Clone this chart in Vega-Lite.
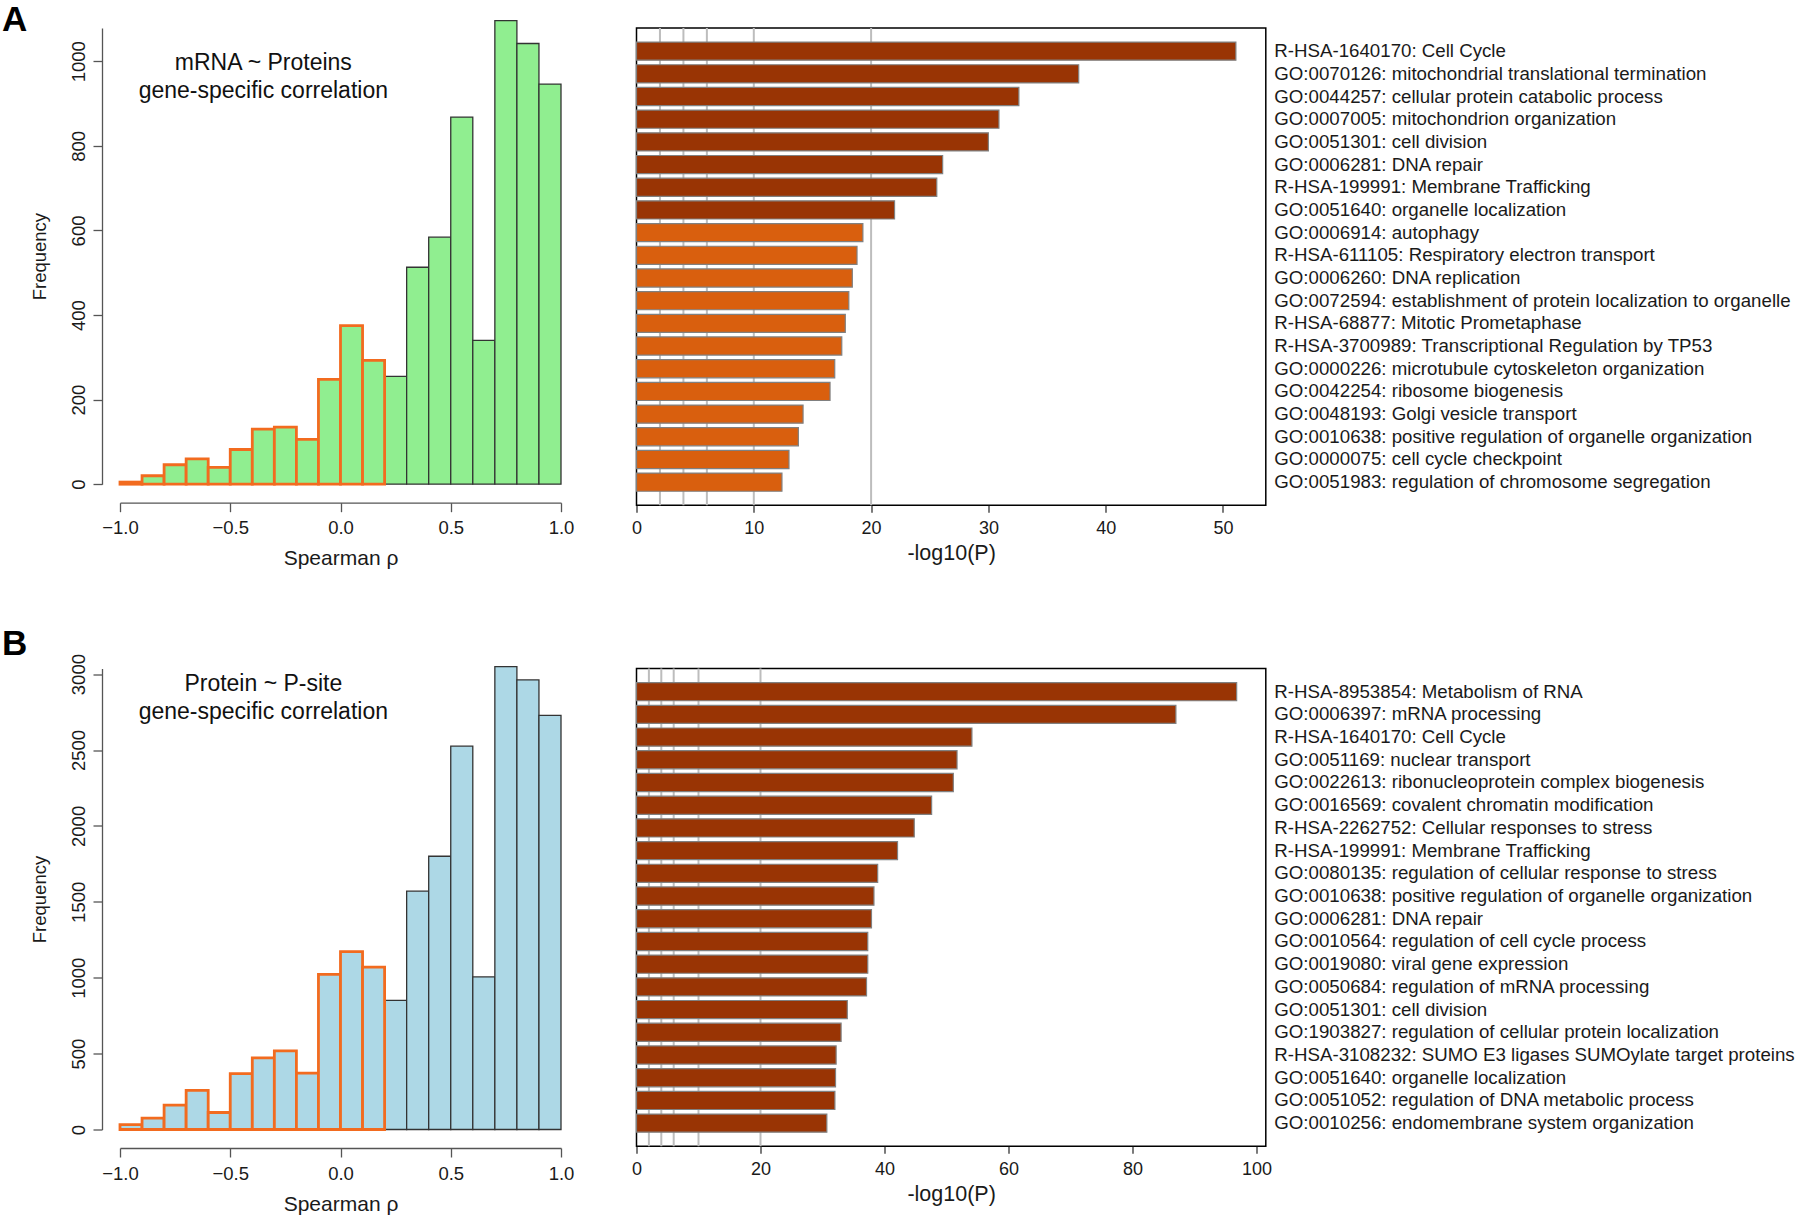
{
  "$schema": "https://vega.github.io/schema/vega-lite/v6.json",
  "padding": {"left": 2, "top": 2, "right": 0, "bottom": 0},
  "background": "white",
  "config": {
    "font": "Liberation Sans",
    "view": {"stroke": null},
    "axis": {"labelColor": "#1a1a1a", "titleColor": "#1a1a1a", "titleFontWeight": "normal", "grid": false, "labelFlush": false, "labelOverlap": false, "labelFont": "Liberation Sans", "titleFont": "Liberation Sans"},
    "title": {"font": "Liberation Sans"}
  },
  "datasets": {
    "histA": [
      {"start": -1.0, "end": -0.9, "count": 5, "edge": "o"},
      {"start": -0.9, "end": -0.8, "count": 20, "edge": "o"},
      {"start": -0.8, "end": -0.7, "count": 46, "edge": "o"},
      {"start": -0.7, "end": -0.6, "count": 60, "edge": "o"},
      {"start": -0.6, "end": -0.5, "count": 40, "edge": "o"},
      {"start": -0.5, "end": -0.4, "count": 82, "edge": "o"},
      {"start": -0.4, "end": -0.3, "count": 130, "edge": "o"},
      {"start": -0.3, "end": -0.2, "count": 135, "edge": "o"},
      {"start": -0.2, "end": -0.1, "count": 106, "edge": "o"},
      {"start": -0.1, "end": 0.0, "count": 248, "edge": "o"},
      {"start": 0.0, "end": 0.1, "count": 375, "edge": "o"},
      {"start": 0.1, "end": 0.2, "count": 293, "edge": "o"},
      {"start": 0.2, "end": 0.3, "count": 255, "edge": "k"},
      {"start": 0.3, "end": 0.4, "count": 513, "edge": "k"},
      {"start": 0.4, "end": 0.5, "count": 584, "edge": "k"},
      {"start": 0.5, "end": 0.6, "count": 868, "edge": "k"},
      {"start": 0.6, "end": 0.7, "count": 340, "edge": "k"},
      {"start": 0.7, "end": 0.8, "count": 1096, "edge": "k"},
      {"start": 0.8, "end": 0.9, "count": 1042, "edge": "k"},
      {"start": 0.9, "end": 1.0, "count": 946, "edge": "k"}
    ],
    "histB": [
      {"start": -1.0, "end": -0.9, "count": 32, "edge": "o"},
      {"start": -0.9, "end": -0.8, "count": 75, "edge": "o"},
      {"start": -0.8, "end": -0.7, "count": 160, "edge": "o"},
      {"start": -0.7, "end": -0.6, "count": 258, "edge": "o"},
      {"start": -0.6, "end": -0.5, "count": 112, "edge": "o"},
      {"start": -0.5, "end": -0.4, "count": 368, "edge": "o"},
      {"start": -0.4, "end": -0.3, "count": 472, "edge": "o"},
      {"start": -0.3, "end": -0.2, "count": 518, "edge": "o"},
      {"start": -0.2, "end": -0.1, "count": 372, "edge": "o"},
      {"start": -0.1, "end": 0.0, "count": 1022, "edge": "o"},
      {"start": 0.0, "end": 0.1, "count": 1172, "edge": "o"},
      {"start": 0.1, "end": 0.2, "count": 1070, "edge": "o"},
      {"start": 0.2, "end": 0.3, "count": 850, "edge": "k"},
      {"start": 0.3, "end": 0.4, "count": 1570, "edge": "k"},
      {"start": 0.4, "end": 0.5, "count": 1800, "edge": "k"},
      {"start": 0.5, "end": 0.6, "count": 2525, "edge": "k"},
      {"start": 0.6, "end": 0.7, "count": 1005, "edge": "k"},
      {"start": 0.7, "end": 0.8, "count": 3050, "edge": "k"},
      {"start": 0.8, "end": 0.9, "count": 2962, "edge": "k"},
      {"start": 0.9, "end": 1.0, "count": 2728, "edge": "k"}
    ],
    "notesA": [
      {"x": -0.35, "y": 995, "line": "mRNA ~ Proteins"},
      {"x": -0.35, "y": 930, "line": "gene-specific correlation"}
    ],
    "notesB": [
      {"x": -0.35, "y": 2937, "line": "Protein ~ P-site"},
      {"x": -0.35, "y": 2750, "line": "gene-specific correlation"}
    ],
    "grid": [{"p": 2}, {"p": 4}, {"p": 6}, {"p": 10}, {"p": 20}],
    "barA": [
      {"term": "R-HSA-1640170: Cell Cycle", "neglog10p": 51.1, "group": "1"},
      {"term": "GO:0070126: mitochondrial translational termination", "neglog10p": 37.7, "group": "1"},
      {"term": "GO:0044257: cellular protein catabolic process", "neglog10p": 32.6, "group": "1"},
      {"term": "GO:0007005: mitochondrion organization", "neglog10p": 30.9, "group": "1"},
      {"term": "GO:0051301: cell division", "neglog10p": 30.0, "group": "1"},
      {"term": "GO:0006281: DNA repair", "neglog10p": 26.1, "group": "1"},
      {"term": "R-HSA-199991: Membrane Trafficking", "neglog10p": 25.6, "group": "1"},
      {"term": "GO:0051640: organelle localization", "neglog10p": 22.0, "group": "1"},
      {"term": "GO:0006914: autophagy", "neglog10p": 19.3, "group": "2"},
      {"term": "R-HSA-611105: Respiratory electron transport", "neglog10p": 18.8, "group": "2"},
      {"term": "GO:0006260: DNA replication", "neglog10p": 18.4, "group": "2"},
      {"term": "GO:0072594: establishment of protein localization to organelle", "neglog10p": 18.1, "group": "2"},
      {"term": "R-HSA-68877: Mitotic Prometaphase", "neglog10p": 17.8, "group": "2"},
      {"term": "R-HSA-3700989: Transcriptional Regulation by TP53", "neglog10p": 17.5, "group": "2"},
      {"term": "GO:0000226: microtubule cytoskeleton organization", "neglog10p": 16.9, "group": "2"},
      {"term": "GO:0042254: ribosome biogenesis", "neglog10p": 16.5, "group": "2"},
      {"term": "GO:0048193: Golgi vesicle transport", "neglog10p": 14.2, "group": "2"},
      {"term": "GO:0010638: positive regulation of organelle organization", "neglog10p": 13.8, "group": "2"},
      {"term": "GO:0000075: cell cycle checkpoint", "neglog10p": 13.0, "group": "2"},
      {"term": "GO:0051983: regulation of chromosome segregation", "neglog10p": 12.4, "group": "2"}
    ],
    "barB": [
      {"term": "R-HSA-8953854: Metabolism of RNA", "neglog10p": 96.8, "group": "1"},
      {"term": "GO:0006397: mRNA processing", "neglog10p": 87.0, "group": "1"},
      {"term": "R-HSA-1640170: Cell Cycle", "neglog10p": 54.1, "group": "1"},
      {"term": "GO:0051169: nuclear transport", "neglog10p": 51.7, "group": "1"},
      {"term": "GO:0022613: ribonucleoprotein complex biogenesis", "neglog10p": 51.1, "group": "1"},
      {"term": "GO:0016569: covalent chromatin modification", "neglog10p": 47.6, "group": "1"},
      {"term": "R-HSA-2262752: Cellular responses to stress", "neglog10p": 44.8, "group": "1"},
      {"term": "R-HSA-199991: Membrane Trafficking", "neglog10p": 42.1, "group": "1"},
      {"term": "GO:0080135: regulation of cellular response to stress", "neglog10p": 38.9, "group": "1"},
      {"term": "GO:0010638: positive regulation of organelle organization", "neglog10p": 38.3, "group": "1"},
      {"term": "GO:0006281: DNA repair", "neglog10p": 37.9, "group": "1"},
      {"term": "GO:0010564: regulation of cell cycle process", "neglog10p": 37.3, "group": "1"},
      {"term": "GO:0019080: viral gene expression", "neglog10p": 37.3, "group": "1"},
      {"term": "GO:0050684: regulation of mRNA processing", "neglog10p": 37.1, "group": "1"},
      {"term": "GO:0051301: cell division", "neglog10p": 34.0, "group": "1"},
      {"term": "GO:1903827: regulation of cellular protein localization", "neglog10p": 33.0, "group": "1"},
      {"term": "R-HSA-3108232: SUMO E3 ligases SUMOylate target proteins", "neglog10p": 32.2, "group": "1"},
      {"term": "GO:0051640: organelle localization", "neglog10p": 32.1, "group": "1"},
      {"term": "GO:0051052: regulation of DNA metabolic process", "neglog10p": 32.0, "group": "1"},
      {"term": "GO:0010256: endomembrane system organization", "neglog10p": 30.7, "group": "1"}
    ]
  },
  "columns": 2,
  "align": "each",
  "bounds": "flush",
  "spacing": {"row": 162.5, "column": 75.5},
  "concat": [
    {
      "width": 441,
      "height": 456.2,
      "title": {"text": "A", "anchor": "start", "frame": "bounds", "fontSize": 35, "fontWeight": "bold", "color": "black", "dx": -28, "dy": 17.5, "offset": 0},
      "layer": [
        {
          "data": {"name": "histA"},
          "transform": [{"filter": "datum.edge == 'k'"}],
          "mark": {"type": "bar", "fill": "#90EE90", "stroke": "#333333", "strokeWidth": 1.3},
          "encoding": {
            "x": {"field": "start", "type": "quantitative", "scale": {"domain": [-1, 1], "nice": false, "zero": false},
              "axis": {"values": [-1, -0.5, 0, 0.5, 1], "format": ".1f", "offset": 18.5, "tickSize": 9, "tickColor": "#555", "tickWidth": 1.3, "domainColor": "#555", "domainWidth": 1.3, "labelFontSize": 18.5, "labelPadding": 7, "title": "Spearman ρ", "titleFontSize": 21, "titlePadding": 10}},
            "x2": {"field": "end"},
            "y": {"field": "count", "type": "quantitative", "scale": {"domain": [0, 1078.7], "nice": false},
              "axis": {"values": [0, 200, 400, 600, 800, 1000], "format": "d", "offset": 18, "tickSize": 9, "tickColor": "#555", "tickWidth": 1.3, "domainColor": "#555", "domainWidth": 1.3, "labelFontSize": 18.5, "labelAngle": -90, "labelAlign": "center", "labelBaseline": "bottom", "labelPadding": 5, "title": "Frequency", "titleFontSize": 18.5, "titlePadding": 20}},
            "y2": {"datum": 0}
          }
        },
        {
          "data": {"name": "histA"},
          "transform": [{"filter": "datum.edge == 'o'"}],
          "mark": {"type": "bar", "fill": "#90EE90", "stroke": "#F26B1F", "strokeWidth": 2.8},
          "encoding": {
            "x": {"field": "start", "type": "quantitative"},
            "x2": {"field": "end"},
            "y": {"field": "count", "type": "quantitative"},
            "y2": {"datum": 0}
          }
        },
        {
          "data": {"name": "notesA"},
          "mark": {"type": "text", "fontSize": 23, "align": "center", "baseline": "middle", "color": "#111"},
          "encoding": {
            "x": {"field": "x", "type": "quantitative"},
            "y": {"field": "y", "type": "quantitative"},
            "text": {"field": "line"}
          }
        }
      ]
    },
    {
      "width": 629.3,
      "height": 477.3,
      "view": {"stroke": "black", "strokeWidth": 1.5},
      "layer": [
        {
          "data": {"name": "grid"},
          "mark": {"type": "rule", "color": "#bdbdbd", "strokeWidth": 2},
          "encoding": {
            "x": {"field": "p", "type": "quantitative", "scale": {"domain": [0, 53.65], "nice": false},
              "axis": {"values": [0, 10, 20, 30, 40, 50], "domain": false, "tickSize": 7, "tickColor": "#222", "tickWidth": 1.2, "labelFontSize": 18, "labelPadding": 7, "title": "-log10(P)", "titleFontSize": 21.5, "titlePadding": 5}}
          }
        },
        {
          "data": {"name": "barA"},
          "mark": {"type": "bar", "stroke": "#808080", "strokeWidth": 1.2},
          "encoding": {
            "x": {"field": "neglog10p", "type": "quantitative", "title": "-log10(P)"},
            "y": {"field": "term", "type": "nominal", "sort": null, "scale": {"paddingInner": 0.2, "paddingOuter": 0.62},
              "axis": {"orient": "right", "ticks": false, "domain": false, "labelPadding": 8, "labelFontSize": 18.7, "labelLimit": 0, "labelAlign": "left", "title": null}},
            "color": {"field": "group", "type": "nominal", "scale": {"domain": ["1", "2"], "range": ["#993404", "#d95f0e"]}, "legend": null}
          }
        }
      ]
    },
    {
      "width": 441,
      "height": 461,
      "title": {"text": "B", "anchor": "start", "frame": "bounds", "fontSize": 35, "fontWeight": "bold", "color": "black", "dx": -28, "dy": 8.5, "offset": 0},
      "layer": [
        {
          "data": {"name": "histB"},
          "transform": [{"filter": "datum.edge == 'k'"}],
          "mark": {"type": "bar", "fill": "#ADD8E6", "stroke": "#333333", "strokeWidth": 1.3},
          "encoding": {
            "x": {"field": "start", "type": "quantitative", "scale": {"domain": [-1, 1], "nice": false, "zero": false},
              "axis": {"values": [-1, -0.5, 0, 0.5, 1], "format": ".1f", "offset": 18.5, "tickSize": 9, "tickColor": "#555", "tickWidth": 1.3, "domainColor": "#555", "domainWidth": 1.3, "labelFontSize": 18.5, "labelPadding": 7, "title": "Spearman ρ", "titleFontSize": 21, "titlePadding": 11}},
            "x2": {"field": "end"},
            "y": {"field": "count", "type": "quantitative", "scale": {"domain": [0, 3037], "nice": false},
              "axis": {"values": [0, 500, 1000, 1500, 2000, 2500, 3000], "format": "d", "offset": 18, "tickSize": 9, "tickColor": "#555", "tickWidth": 1.3, "domainColor": "#555", "domainWidth": 1.3, "labelFontSize": 18.5, "labelAngle": -90, "labelAlign": "center", "labelBaseline": "bottom", "labelPadding": 5, "title": "Frequency", "titleFontSize": 18.5, "titlePadding": 20}},
            "y2": {"datum": 0}
          }
        },
        {
          "data": {"name": "histB"},
          "transform": [{"filter": "datum.edge == 'o'"}],
          "mark": {"type": "bar", "fill": "#ADD8E6", "stroke": "#F26B1F", "strokeWidth": 2.8},
          "encoding": {
            "x": {"field": "start", "type": "quantitative"},
            "x2": {"field": "end"},
            "y": {"field": "count", "type": "quantitative"},
            "y2": {"datum": 0}
          }
        },
        {
          "data": {"name": "notesB"},
          "mark": {"type": "text", "fontSize": 23, "align": "center", "baseline": "middle", "color": "#111"},
          "encoding": {
            "x": {"field": "x", "type": "quantitative"},
            "y": {"field": "y", "type": "quantitative"},
            "text": {"field": "line"}
          }
        }
      ]
    },
    {
      "width": 629.3,
      "height": 477.8,
      "view": {"stroke": "black", "strokeWidth": 1.5},
      "layer": [
        {
          "data": {"name": "grid"},
          "mark": {"type": "rule", "color": "#bdbdbd", "strokeWidth": 2},
          "encoding": {
            "x": {"field": "p", "type": "quantitative", "scale": {"domain": [0, 101.5], "nice": false},
              "axis": {"values": [0, 20, 40, 60, 80, 100], "domain": false, "tickSize": 7, "tickColor": "#222", "tickWidth": 1.2, "labelFontSize": 18, "labelPadding": 7, "title": "-log10(P)", "titleFontSize": 21.5, "titlePadding": 5}}
          }
        },
        {
          "data": {"name": "barB"},
          "mark": {"type": "bar", "stroke": "#808080", "strokeWidth": 1.2},
          "encoding": {
            "x": {"field": "neglog10p", "type": "quantitative", "title": "-log10(P)"},
            "y": {"field": "term", "type": "nominal", "sort": null, "scale": {"paddingInner": 0.2, "paddingOuter": 0.62},
              "axis": {"orient": "right", "ticks": false, "domain": false, "labelPadding": 8, "labelFontSize": 18.7, "labelLimit": 0, "labelAlign": "left", "title": null}},
            "color": {"field": "group", "type": "nominal", "scale": {"domain": ["1", "2"], "range": ["#993404", "#d95f0e"]}, "legend": null}
          }
        }
      ]
    }
  ]
}
